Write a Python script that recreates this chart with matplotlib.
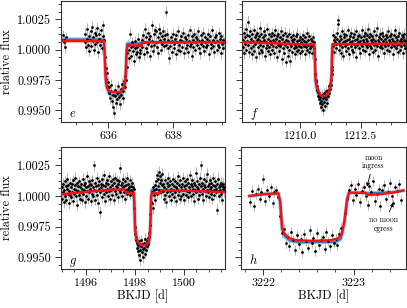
import numpy as np
import matplotlib
matplotlib.use('Agg')
import matplotlib.pyplot as plt
from matplotlib.ticker import MultipleLocator, FormatStrFormatter

plt.rcParams['font.family'] = 'serif'
plt.rcParams['font.serif'] = ['cmr10']
plt.rcParams['mathtext.fontset'] = 'cm'
plt.rcParams['axes.unicode_minus'] = False

CAD = 0.0204  # long cadence [d]
# flux values are stored as offsets from 1 in units of 1e-4

# --- transit e ---
e_starts = [634.60, 635.27, 635.89, 636.58]
e_pre0 = [12, 8, 6, 2, 10]
e_pre = [6, 13, 2, 9, 17, 4, 11, -1, 8, 15, 3, 19, 7, 10, 0, 14, 5, 12, 18, 6,
         -2, 9, 13, 4, 16, 7, 1, 11, 20, 8]
e_in = [-6, -15, -24, -19, -30, -27, -36, -31, -40, -34, -29, -42, -37, -47, -52, -38,
        -33, -44, -36, -41, -30, -39, -35, -45, -32, -37, -28, -34, -40, -26, -31, -22,
        -25, -14]
e_post = [-3, 4, 0, -7, 13, 2, -5, 6, -1, 3, -9, 1, 7, -4, 2, -2, 9, -6, 4, 0, -3, 5,
          8, 2, 12, -4, 6, 17, 1, 10, -2, 14, 5, 9, -5, 11, 3, 20, 7, -1, 13, 4,
          16, 6, 15, 2, 10, -3, 17, 8, 14, 0, 11, 5, 15, 3, 9, 12, 31, 4, 13, 1, 8, -7, 6,
          3, 10, -2, 7, 13, 1, 5, 9, -4, 12, 6, 0, 15, 4, 8, -1, 11, 2, 7, 14, -3, 6,
          10, 1, 9, 4, 12, -2, 7, 16, 3, 5, 11, -5, 8, 2, 13, 6, 0, 10, 4, 9, 15, 1,
          7, -3, 12, 5, 8, 3, 14, -1, 6, 10, 2, 9, 4, 13, -4, 7, 11, 1, 5, 16, 3, 8,
          -2, 10, 6, 12, 0, 7, 4, 14, 2, 9, -3, 11, 5, 8, 1, 6]
e_red_t = [634.54, 635.86, 635.88, 635.91, 635.93, 635.97, 636.05, 636.15, 636.36,
           636.44, 636.50, 636.53, 636.56, 636.59, 637.02, 637.04, 639.59]
e_red = [7, 7, 0, -20, -28, -32, -34.5, -35, -35, -33, -29, -22, 0, 3.5, 3.5, 6, 6]
e_blue_t = [634.54, 635.86, 635.88, 635.91, 635.95, 636.02, 636.10, 636.35, 636.45,
            636.52, 636.55, 636.58, 637.02, 637.04, 639.59]
e_blue = [8.5, 8.5, 0, -22, -31, -36, -37.5, -37.5, -34, -26, -10, 5, 5.5, 6, 6]

# --- transit f ---
f_starts = [1207.62, 1210.60, 1211.33]
f_pre = [8, 2, 14, -3, 10, 5, 17, 0, 7, 12, 23, 4, -2, 11, 6, 15, 1, 9, -4, 13,
         7, 3, 16, -1, 10, 5, 12, -6, 8, 14, 2, 9, -3, 11, 18, 4, 7, 0, 13, 6,
         -2, 10, 3, 15, 8, -5, 12, 1, 6, 17, 4, -1, 9, 13, 2, 7, -4, 11, 5, 14,
         0, 8, 3, 12, -3, 6, 16, 2, 9, -6, 11, 4, 13, 7, -1, 10, 3, 15, 5, -8,
         9, 1, 12, 6, -3, 14, 4, 8, -10, 2, 11, -5, 7, 13, 0, 5, -9, 10, 3, 8,
         -2, 12, 6, 1, 9, -4, 4, 11, 2, 7, -1, 13, 5, 0, 8, 3, 10, -3, 6, 2,
         9, -1, 5, 12, 3, 7, -4, 10, 2, 6, 14, 0, 8, 4, -2, 11, 5, 1, 9, 3,
         7, -3, 4, 10, 1, 6]
f_in = [-8, -20, -27, -25, -33, -30, -38, -35, -41, -36, -44, -39, -47, -42, -37, -45,
        -50, -40, -36, -43, -39, -46, -34, -41, -37, -44, -33, -38, -30, -36, -28, -32,
        -25, -29, -20, -14]
f_post = [-17, 12, 3, 8, -2, 6, 10, 1, 5, 9, 14, 24, 21, 7, 0, 11, 4, -3, 9, 15,
          2, 6, -5, 10, 13, 3, 7, -1, 12, 5, 8, 16, 1, 9, -4, 6, 11, 3, 14, 0,
          7, 10, -2, 5, 13, 8, 2, 15, -6, 9, 4, 11, 6, 1, 12, 7, -3, 10, 5, 16,
          3, 8, 0, 11, 6, 14, -1, 9, 4, 12, 7, 2, 17, 5, -4, 10, 3, 13, 8, 1,
          6, 11, -2, 9, 15, 4, 7, 0, 12, 5, 18, 3, 8, -5, 10, 6, 13, 2, 9, 4,
          14, 1, 7, 11, -3, 5, 9, 3, 12, 6, 0, 10, 15, 4, 8, -1, 11, 6, 2, 13,
          5, 9, -4, 7, 12, 3, 16, 6, 1, 10, 4, 8, -2, 11, 5, 14, 7, 0, 9, 3,
          12, 6, 10, -3, 8, 4, 13, 1, 7]
f_red_t = [1207.59, 1210.58, 1210.60, 1210.63, 1210.67, 1210.75, 1210.85, 1210.95,
           1211.08, 1211.18, 1211.25, 1211.29, 1211.31, 1211.33, 1214.37]
f_red = [6.2, 4.0, -5, -24, -30, -34, -37.5, -38.3, -37.5, -35, -30, -22, -5, 4.5, 5]
f_blue_t = [1207.59, 1210.10, 1210.30, 1210.58, 1210.60, 1210.63, 1210.70, 1210.80,
            1210.95, 1211.08, 1211.18, 1211.26, 1211.30, 1211.32, 1211.34, 1214.37]
f_blue = [6.2, 4.4, 3, 2, -6, -26, -34, -39, -41.5, -41, -37, -30, -20, -4, 4.5, 5]

# --- transit g ---
g_starts = [1495.00, 1497.96, 1498.67]
g_pre = [-2, 7, 3, 10, -5, 5, 12, 0, 8, -3, 6, 14, 2, 9, -6, 4, 11, 1, 7, -1,
         10, 3, 13, -4, 6, 2, 9, 15, 0, 5, -7, 11, 4, 8, 1, 12, -2, 7, 3, 10,
         6, -3, 14, 2, 9, 5, -5, 11, 7, 0, 16, 4, 8, -2, 12, 3, 6, 10, -4, 9,
         2, 13, 7, 0, 25, 5, 11, -3, 8, 4, 15, 1, 9, -6, 6, 12, -13, 3, 10, 7,
         -1, 14, 5, 9, 2, 17, -4, 8, 11, 3, 6, 13, 0, 10, 4, 16, 7, -2, 12, 5,
         9, 1, 14, 6, -3, 11, 4, 15, 8, 2, 13, 7, -1, 10, 5, 12, 3, 23, 6, 9,
         0, 11, 7, 14, 3, 8, -2, 12, 5, 9, 2, 15, 6, 10, 4, 7, 13, 1, 8, 5,
         11, 3, 7, 2, 6]
g_in = [-10, -25, -31, -36, -33, -42, -38, -45, -40, -48, -37, -44, -52, -41, -36, -46,
        -39, -43, -50, -38, -42, -35, -47, -40, -44, -37, -41, -34, -39, -30, -33, -24,
        -15, -5]
g_post = [3, -6, 7, -10, 5, 1, 9, -3, 6, 12, 2, 17, 8, 14, 20, 5, 11, 16, 3, 13,
          9, 18, 4, 10, -2, 7, 13, 1, 6, -5, 11, 3, 8, 15, 0, 9, 4, 12, -3, 6,
          10, 2, 14, 5, -1, 8, 12, 3, 7, -4, 11, 6, 16, 1, 9, 4, -2, 13, 7, 0,
          10, 5, 15, 2, 8, -3, 12, 6, 1, 9, 14, 4, -1, 11, 7, 3, 17, 5, 10, 0,
          8, 13, 2, 6, -4, 11, 5, 9, 19, 3, 7, 12, -2, 6, 10, 1, 15, 4, 25, 8,
          2, 11, 6, -3, 9, 14, 4, 7, 0, 12, 5, 18, 3, 8, -1, 10, 6, 13, 2, 7,
          11, 4, -2, 9, 15, 5, 1, 8, 12, 3, 6, -11, 10, 4, 14, 7, 0, 9, 5, 11,
          2, 8, -3, 6, 10, 4, 7]
g_red_t = [1494.96, 1496.0, 1497.0, 1497.55, 1497.62, 1497.93, 1497.96, 1497.99,
           1498.03, 1498.12, 1498.25, 1498.45, 1498.55, 1498.60, 1498.63, 1498.65,
           1498.68, 1499.02, 1499.05, 1500.0, 1501.67]
g_red = [1.4, 3.5, 5.0, 5.5, 3, 2.5, -5, -25, -33, -38, -40, -40, -37, -30, -15, 0,
         2.2, 2.2, 4.7, 4.3, 3.3]
g_blue_t = [1494.96, 1496.0, 1497.0, 1497.55, 1497.93, 1497.96, 1497.99, 1498.05,
            1498.15, 1498.50, 1498.58, 1498.62, 1498.65, 1498.68, 1499.02, 1499.05,
            1500.0, 1501.67]
g_blue = [1.4, 3.5, 5.0, 5.5, 5.0, -6, -27, -36, -42, -42, -37, -24, -3, 5, 5, 4.7,
          4.3, 3.3]

# --- transit h ---
h_starts = [3221.86, 3222.19, 3222.91]
h_pre = [-5, 4, -8, 2, 6, -2, 3, 14, -4, 5, 0, 7, -6, 3, 5, -1]
h_in = [-16, -30, -27, -38, -33, -41, -29, -36, -44, -32, -39, -35, -46, -31, -37, -42,
        -28, -38, -34, -45, -30, -40, -36, -33, -43, -29, -37, -41, -32, -38, -35, -40,
        -31, -26]
h_post = [-14, -2, 5, 9, -3, 6, 1, 10, -5, 4, 7, 0, -7, 8, 3, 12, -4, 2, 6, -8, 5, 9,
          -2, 3, 11, 0, -6, 7, 4, 10, -3]
h_red_t = [3221.85, 3222.0, 3222.17, 3222.19, 3222.21, 3222.23, 3222.28, 3222.36,
           3222.55, 3222.75, 3222.83, 3222.87, 3222.90, 3222.93, 3222.95, 3223.13,
           3223.15, 3223.30, 3223.45, 3223.55]
h_red = [0, 1.5, 2.2, -5, -25, -30, -34, -36, -36.5, -36, -34.5, -31, -20, -2, 2.7,
         2.7, 0.8, 1.5, 3, 4.5]
h_blue_t = [3221.85, 3222.0, 3222.17, 3222.19, 3222.21, 3222.24, 3222.30, 3222.40,
            3222.80, 3222.86, 3222.90, 3222.93, 3222.95, 3223.13, 3223.16, 3223.45,
            3223.55]
h_blue = [0, 1.5, 2.2, -6, -27, -33, -36.5, -37.8, -37.5, -35, -22, -3, 2.7, 2.7, 2.4,
          3.2, 4.5]


def to_flux(dev):
    return 1 + np.asarray(dev, dtype=float) * 1e-4


def draw(ax, starts, segs, red_t, red, blue_t, blue, err, xlim, major, minor, fmt, letter):
    t = np.concatenate([s + CAD * np.arange(len(v)) for s, v in zip(starts, segs)])
    fl = to_flux(np.concatenate(segs))
    ax.errorbar(t, fl, yerr=err, fmt='none', ecolor='#a8a8a8', elinewidth=0.6, zorder=1)
    ax.plot(blue_t, to_flux(blue), color='#9fc4e6', lw=2.8, zorder=2)
    ax.plot(blue_t, to_flux(blue), color='#2f78c0', lw=1.2, zorder=2)
    ax.plot(t, fl, '.', color='k', ms=2.0, zorder=3)
    ax.plot(red_t, to_flux(red), color='#ff0d0d', lw=1.7, zorder=4)
    ax.set_xlim(*xlim)
    ax.set_ylim(0.99405, 1.00400)
    ax.xaxis.set_major_locator(MultipleLocator(major))
    ax.xaxis.set_minor_locator(MultipleLocator(minor))
    ax.xaxis.set_major_formatter(FormatStrFormatter(fmt))
    ax.yaxis.set_major_locator(MultipleLocator(0.0025))
    ax.yaxis.set_minor_locator(MultipleLocator(0.000625))
    ax.yaxis.set_major_formatter(FormatStrFormatter('%.4f'))
    ax.tick_params(which='major', direction='out', length=4.2, width=0.7, color='#333333')
    ax.tick_params(which='minor', direction='out', length=2.2, width=0.6, color='#333333')
    ax.tick_params(axis='x', labelsize=8.6, pad=2.5)
    ax.tick_params(axis='y', labelsize=8.8, pad=3)
    for sp in ax.spines.values():
        sp.set_linewidth(0.8)
        sp.set_color('#333333')
    ax.text(0.05, 0.04, '$' + letter + '$', transform=ax.transAxes, fontsize=9,
            va='baseline', ha='left')


fig = plt.figure(figsize=(4.07, 3.08), dpi=100)
ax_e = fig.add_axes([0.1499, 0.6039, 0.4029, 0.3929])
ax_f = fig.add_axes([0.5946, 0.6039, 0.4029, 0.3929])
ax_g = fig.add_axes([0.1499, 0.1266, 0.4029, 0.3961])
ax_h = fig.add_axes([0.5921, 0.1266, 0.4054, 0.3961])

draw(ax_e, e_starts, [e_pre0, e_pre, e_in, e_post], e_red_t, e_red, e_blue_t, e_blue,
     0.00045, (634.54, 639.59), 2, 0.5, '%d', 'e')
draw(ax_f, f_starts, [f_pre, f_in, f_post], f_red_t, f_red, f_blue_t, f_blue,
     0.00045, (1207.59, 1214.37), 2.5, 0.625, '%.1f', 'f')
draw(ax_g, g_starts, [g_pre, g_in, g_post], g_red_t, g_red, g_blue_t, g_blue,
     0.00045, (1494.96, 1501.67), 2, 0.5, '%d', 'g')
draw(ax_h, h_starts, [h_pre, h_in, h_post], h_red_t, h_red, h_blue_t, h_blue,
     0.0004, (3221.756, 3223.58), 1, 0.2, '%d', 'h')

for ax in (ax_f, ax_h):
    ax.tick_params(axis='y', labelleft=False)
for ax in (ax_e, ax_g):
    ax.set_ylabel('relative flux', fontsize=8.8)
    ax.yaxis.set_label_coords(-0.295, 0.5)
for ax in (ax_g, ax_h):
    ax.set_xlabel('BKJD [d]', fontsize=8.8)
    ax.xaxis.set_label_coords(0.5, -0.17)

ax_h.annotate('moon\ningress', xy=(3223.149, 1.00076), xytext=(3223.22, 1.0028),
              ha='center', va='center', fontsize=5.5, linespacing=0.95, zorder=6,
              arrowprops=dict(arrowstyle='-|>', color='k', lw=0.6, mutation_scale=5,
                              shrinkA=1, shrinkB=0))
ax_h.annotate('no moon\negress', xy=(3223.44, 0.99945), xytext=(3223.334, 0.9977),
              ha='center', va='center', fontsize=5.5, linespacing=0.95, zorder=6,
              arrowprops=dict(arrowstyle='-|>', color='k', lw=0.6, mutation_scale=5,
                              shrinkA=1, shrinkB=0))

fig.savefig('out.png', dpi=100)
